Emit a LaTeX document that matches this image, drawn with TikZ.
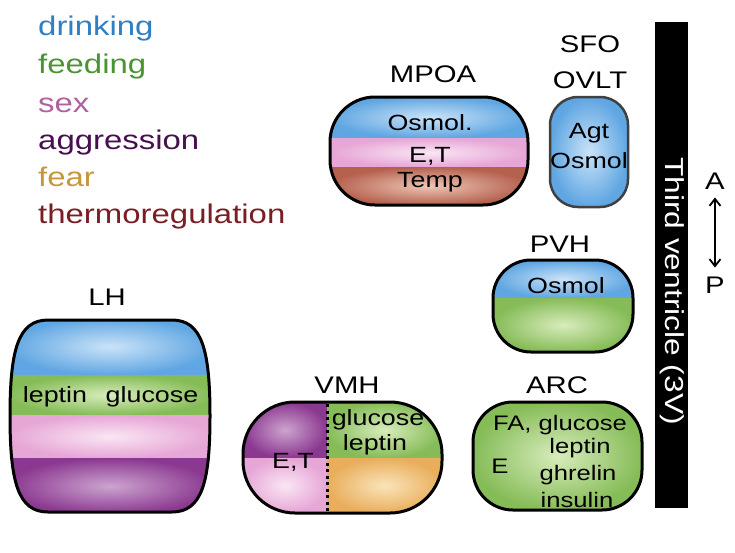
\documentclass[tikz,border=0pt]{standalone}
\usepackage{fontspec}
\setmainfont{Liberation Sans}[FakeStretch=1.22]
\usetikzlibrary{arrows.meta}
\definecolor{drinkc}{HTML}{2F7FC4}
\definecolor{feedc}{HTML}{4A9432}
\definecolor{sexc}{HTML}{B0609E}
\definecolor{aggrc}{HTML}{46104E}
\definecolor{fearc}{HTML}{C8963A}
\definecolor{thermc}{HTML}{7A1E26}
\definecolor{blueout}{HTML}{5FA6E2}
\definecolor{bluein}{HTML}{CAE3F8}
\definecolor{pinkout}{HTML}{E6A6D6}
\definecolor{pinkin}{HTML}{FAE6F4}
\definecolor{brownout}{HTML}{B5614E}
\definecolor{brownin}{HTML}{EDC6B6}
\definecolor{greenout}{HTML}{86BC58}
\definecolor{greenin}{HTML}{D8ECBC}
\definecolor{purpout}{HTML}{8B3890}
\definecolor{purpin}{HTML}{CCA4CF}
\definecolor{orangeout}{HTML}{E9AE5C}
\definecolor{orangein}{HTML}{FAE4BA}
\tikzset{
    region/.style={draw=black, line width=3pt},
    blueband/.style={inner color=bluein, outer color=blueout},
    pinkband/.style={inner color=pinkin, outer color=pinkout},
    brownband/.style={inner color=brownin, outer color=brownout},
    greenband/.style={inner color=greenin, outer color=greenout},
    purpband/.style={inner color=purpin, outer color=purpout},
    orangeband/.style={inner color=orangein, outer color=orangeout},
    lbl/.style={font=\fontsize{24}{26}\selectfont, anchor=base, inner sep=0},
    txt/.style={font=\fontsize{22}{24}\selectfont, anchor=base, inner sep=0},
    arctxt/.style={font=\fontsize{21}{23}\selectfont, anchor=base, inner sep=0},
    legend/.style={font=\fontsize{27}{30}\selectfont, anchor=base west, inner sep=0},
}
\begin{document}
\begin{tikzpicture}[x=1pt, y=-1pt]
    \useasboundingbox (0,0) rectangle (735,552);
    % legend
    \node[legend, text=drinkc] (drink) at (38,35) {drinking};
    \node[legend, text=feedc] (feed) at (38,73) {feeding};
    \node[legend, text=sexc] (sex) at (38,112) {sex};
    \node[legend, text=aggrc] (aggr) at (38,149) {aggression};
    \node[legend, text=fearc] (fear) at (38,186) {fear};
    \node[legend, text=thermc] (therm) at (38,223) {thermoregulation};
    % MPOA
    \begin{scope}
        \clip[rounded corners=45] (330,97) rectangle (528,205);
        \shade[blueband] (330,97) rectangle (528,138);
        \shade[pinkband] (330,138) rectangle (528,167);
        \shade[brownband] (330,167) rectangle (528,205);
    \end{scope}
    \draw[region, rounded corners=45] (330,97) rectangle (528,205);
    \node[lbl] (mpoa) at (433,82) {MPOA};
    \node[txt] (mpoa1) at (430,130) {Osmol.};
    \node[txt] (mpoa2) at (430,162) {E,T};
    \node[txt] (mpoa3) at (430,187) {Temp};
    % SFO / OVLT
    \shade[blueband, rounded corners=28] (550,97) rectangle (628,207);
    \draw[region, line width=2.5pt, draw=black!75, rounded corners=28] (550,97) rectangle (628,207);
    \node[lbl] (sfo) at (590,52) {SFO};
    \node[lbl] (ovlt) at (590,88) {OVLT};
    \node[txt] (sfo1) at (589,138) {Agt};
    \node[txt] (sfo2) at (589,168) {Osmol};
    % PVH
    \begin{scope}
        \clip[rounded corners=38] (493,260) rectangle (633,352);
        \shade[blueband] (493,260) rectangle (633,298);
        \shade[greenband] (493,298) rectangle (633,352);
    \end{scope}
    \draw[region, rounded corners=38] (493,260) rectangle (633,352);
    \node[lbl] (pvh) at (560,252) {PVH};
    \node[txt] (pvh1) at (566,293) {Osmol};
    % ARC
    \shade[greenband, rounded corners=40] (473,402) rectangle (642,510);
    \draw[region, rounded corners=40] (473,402) rectangle (642,510);
    \node[lbl] (arc) at (557,393) {ARC};
    \node[arctxt] (arc1) at (560,430) {FA, glucose};
    \node[arctxt] (arc2) at (580,453) {leptin};
    \node[arctxt] (arc3) at (578,480) {ghrelin};
    \node[arctxt] (arc4) at (577,507) {insulin};
    \node[arctxt] (arc5) at (500,473) {E};
    % LH
    \begin{scope}
        \clip (48,320) -- (172,320) .. controls (202,320) and (210,350) .. (210,416)
            .. controls (210,482) and (202,512) .. (172,512) -- (48,512)
            .. controls (18,512) and (10,482) .. (10,416)
            .. controls (10,350) and (18,320) .. (48,320) -- cycle;
        \shade[blueband] (8,318) rectangle (212,375);
        \shade[greenband] (8,375) rectangle (212,415);
        \shade[pinkband] (8,415) rectangle (212,458);
        \shade[purpband] (8,458) rectangle (212,514);
    \end{scope}
    \draw[region] (48,320) -- (172,320) .. controls (202,320) and (210,350) .. (210,416)
        .. controls (210,482) and (202,512) .. (172,512) -- (48,512)
        .. controls (18,512) and (10,482) .. (10,416)
        .. controls (10,350) and (18,320) .. (48,320) -- cycle;
    \node[lbl] (lh) at (107,305) {LH};
    \node[txt] (lh1) at (55,402) {leptin};
    \node[txt] (lh2) at (152,402) {glucose};
    % VMH
    \begin{scope}
        \clip[rounded corners=52] (243,402) rectangle (442,513);
        \shade[purpband] (243,402) rectangle (327,458);
        \shade[pinkband] (243,458) rectangle (327,513);
        \shade[greenband] (327,402) rectangle (442,458);
        \shade[orangeband] (327,458) rectangle (442,513);
    \end{scope}
    \draw[region, rounded corners=52] (243,402) rectangle (442,513);
    \node[lbl] (vmh) at (347,393) {VMH};
    \coordinate (vtop) at (327,404);
    \coordinate (vbot) at (327,511);
    \draw[line width=3pt, dash pattern=on 3pt off 3.5pt] (vtop) -- (vbot);
    \node[txt] (vmh1) at (378,425) {glucose};
    \node[txt] (vmh2) at (375,450) {leptin};
    \node[txt] (vmh3) at (293,468) {E,T};
    % third ventricle
    \fill[black] (655,22) rectangle (688,508);
    \node[font=\fontsize{26}{28}\selectfont, text=white, rotate=-90, inner sep=0] (v3) at (672,291) {Third ventricle (3V)};
    % axis
    \node[lbl, anchor=center] (ant) at (715,181) {A};
    \node[lbl, anchor=center] (post) at (715,285) {P};
    \draw[{Straight Barb[length=7pt,width=11pt]}-{Straight Barb[length=7pt,width=11pt]}, line width=1.8pt,
        shorten <=8pt, shorten >=9pt] (ant.south) -- (post.north);
\end{tikzpicture}
\end{document}
